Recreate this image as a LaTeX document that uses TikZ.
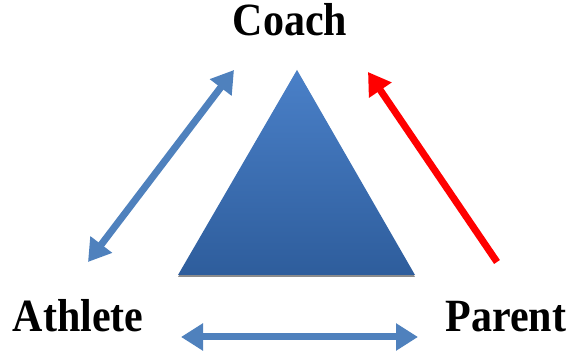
\documentclass[tikz,border=0pt]{standalone}
\usepackage{fontspec}
\setmainfont{Liberation Serif}
\usepackage{xcolor}
\usepackage{tikz}
\usetikzlibrary{arrows.meta}
\definecolor{arrowblue}{HTML}{4F81BD}
\definecolor{arrowred}{HTML}{FF0000}
\definecolor{tritop}{HTML}{4A80C8}
\definecolor{tribottom}{HTML}{2E5D9C}
\tikzset{
  RoleLabel/.style={
    font=\fontsize{42}{42}\selectfont\bfseries,
    anchor=base, inner sep=0pt, yscale=1.1, transform shape
  },
  LinkArrow/.style={
    line width=7pt,
    -{Triangle[width=26pt,length=22pt]}
  },
  BothArrow/.style={
    line width=7pt,
    {Triangle[width=26pt,length=22pt]}-{Triangle[width=26pt,length=22pt]}
  }
}

\begin{document}
\begin{tikzpicture}[x=1pt, y=1pt]
  \useasboundingbox (0,0) rectangle (571,358);

  % labels at the three corners
  \node[RoleLabel] (coach) at (290,322) {Coach};
  \node[RoleLabel] (athlete) at (78,26) {Athlete};
  \node[RoleLabel] (parent) at (506,26) {Parent};

  % arrow ends
  \coordinate (athUp) at (88,96);
  \coordinate (coachL) at (234,288);
  \coordinate (parUp) at (497,96);
  \coordinate (coachR) at (368,286);
  \coordinate (athR) at (181,21);
  \coordinate (parL) at (418,21);

  % triangle in the middle
  \coordinate (apex) at (297,288);
  \coordinate (baseL) at (178,83);
  \coordinate (baseR) at (415,83);
  \fill[black, opacity=0.45] ([yshift=-2pt]baseL) -- ([yshift=-2pt]baseR) -- ([yshift=-0.5pt]apex) -- cycle;
  \shade[top color=tritop, bottom color=tribottom] (baseL) -- (baseR) -- (apex) -- cycle;

  \draw[BothArrow, arrowblue] (athUp) -- (coachL);
  \draw[LinkArrow, arrowred] (parUp) -- (coachR);
  \draw[BothArrow, arrowblue] (athR) -- (parL);
\end{tikzpicture}
\end{document}
